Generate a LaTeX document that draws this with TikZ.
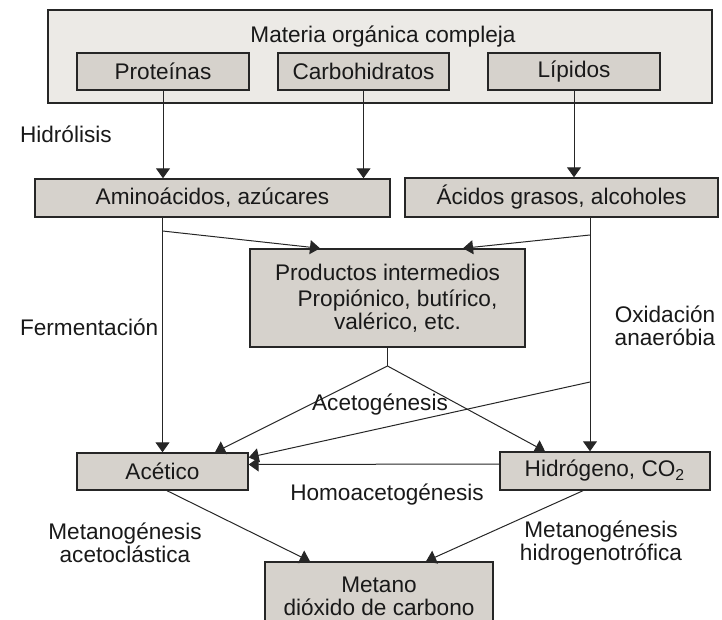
\documentclass[tikz,border=0pt]{standalone}
\usepackage{fontspec}
\setmainfont{Liberation Sans}
\usetikzlibrary{arrows.meta}
\definecolor{boxgray}{RGB}{214,210,204}
\definecolor{outergray}{RGB}{236,234,230}

\begin{document}
\begin{tikzpicture}[x=0.5pt,y=-0.5pt,
  every node/.style={font=\fontsize{11.3}{11.5}\selectfont, text=black!90},
  box/.style={draw=black!85, line width=0.7pt, fill=boxgray, inner sep=0pt, align=center},
  flow/.style={black!85, line width=0.5pt, -{Triangle[width=7pt,length=5pt]}},
  plain/.style={black!85, line width=0.5pt}]

\useasboundingbox (0,0) rectangle (722,620);

% boxes
{
\node[box, fill=outergray, minimum width=332pt, minimum height=46.5pt] (materia) at (380,56.5) {};
\node (materiatxt) at (383,37) {Materia orgánica compleja};

\node[box, minimum width=86pt, minimum height=18.5pt] (prot) at (163,71.5) {Proteínas};
\node[box, minimum width=85.5pt, minimum height=18.5pt] (carb) at (363.5,71.5) {Carbohidratos};
\node[box, minimum width=86pt, minimum height=18.5pt] (lip) at (574,71.5) {Lípidos};

\node[box, minimum width=177.5pt, minimum height=19pt] (amino) at (212.5,198) {Aminoácidos, azúcares};
\node[box, minimum width=156.5pt, minimum height=19.5pt] (acidos) at (561.5,197.5) {Ácidos grasos, alcoholes};

\node[box, minimum width=137.5pt, minimum height=49pt] (prod) at (387.5,298)
  {Productos intermedios\\[1.5pt]\hspace*{10pt}Propiónico, butírico,\\\hspace*{10pt}valérico, etc.};

\node[box, minimum width=85.5pt, minimum height=18.5pt] (acet) at (162.5,471.5) {Acético};
\node[box, minimum width=105pt, minimum height=19pt] (hidro) at (605,471) {Hidrógeno, CO\textsubscript{2}};

\node[box, minimum width=114pt, minimum height=34pt] (metano) at (379,596) {Metano\\dióxido de carbono};
}

% junctions
{
\coordinate (aminoj) at (acet.north |- 0,231);
\coordinate (acidj) at (590,235);
\coordinate (oxj) at (590,382);
\coordinate (prodj) at (prod.south |- 0,366);
}

% hidrólisis
\draw[flow] (prot.south) -- (prot.south |- amino.north);
\draw[flow] (carb.south) -- (carb.south |- amino.north);
\draw[flow] (lip.south) -- (lip.south |- acidos.north);

% fermentación, oxidación
\draw[flow] (acet.north |- amino.south) -- (acet.north);
\draw[flow] (aminoj) -- (prod.north -| 320,0);
\draw[flow] (acidos.south -| 590,0) -- (hidro.north -| 590,0);
\draw[flow] (acidj) -- (prod.north -| 463,0);

% acetogénesis
\draw[plain] (prod.south) -- (prodj);
\draw[flow] (prodj) -- (acet.north -| 215,0);
\draw[flow] (prodj) -- (hidro.north -| 545,0);
\draw[flow] (oxj) -- ([yshift=7pt]acet.east);

% homoacetogénesis
\draw[flow] ([yshift=3.5pt]hidro.west) -- ([yshift=3.5pt]acet.east);

% metanogénesis
\draw[flow] (acet.south -| 167,0) -- (metano.north -| 310,0);
\draw[flow] (hidro.south -| 583,0) -- (metano.north -| 426,0);

% labellings
{
\node[anchor=west] (hidrolisis) at (13,134) {Hidrólisis};
\node[anchor=west] (fermentacion) at (13,327) {Fermentación};
\node[align=center] (oxidacion) at (665,326) {Oxidación\\anaeróbia};
\node (acetogenesis) at (380,405) {Acetogénesis};
\node (homoacet) at (387,495) {Homoacetogénesis};
\node[align=center] (acetoclastica) at (125,543) {Metanogénesis\\acetoclástica};
\node[align=center] (hidrogenotrofica) at (601,543) {Metanogénesis\\hidrogenotrófica};
}
\end{tikzpicture}
\end{document}
